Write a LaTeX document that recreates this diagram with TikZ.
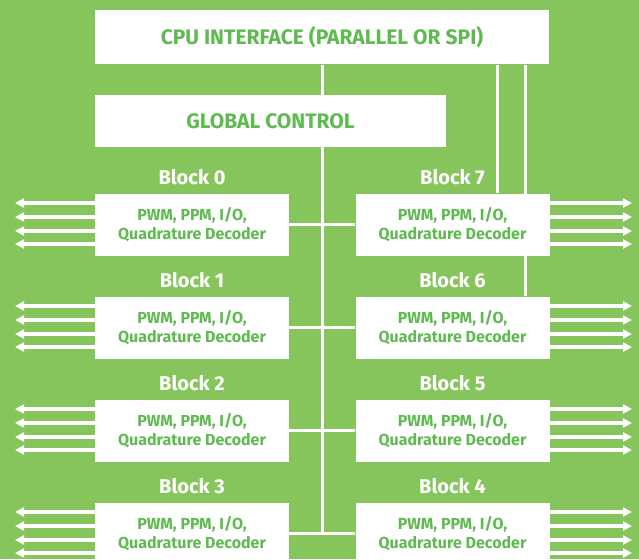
\documentclass[tikz,border=0pt]{standalone}
\usepackage{fontspec}
\setmainfont{Fira Sans}
\usetikzlibrary{arrows.meta,backgrounds}
\definecolor{bggreen}{RGB}{134,197,92}
\definecolor{txtgreen}{RGB}{96,186,82}

\begin{document}
\begin{tikzpicture}[x=1pt, y=-1pt,
  box/.style={fill=white, inner sep=0pt, text=txtgreen, font=\bfseries\fontsize{21}{24}\selectfont},
  blk/.style={box, minimum width=194pt, minimum height=62pt, align=center, font=\bfseries\fontsize{16}{19.5}\selectfont},
  lbl/.style={text=white, inner sep=0pt, font=\bfseries\fontsize{20}{24}\selectfont},
  bus/.style={white, line width=3pt},
  io/.style={white, line width=3.2pt, -{Triangle[length=9pt,width=9pt]}}]
\clip (0,0) rectangle (639,559);
\coordinate (edgeL) at (15,0);
\coordinate (edgeR) at (632,0);
% top boxes
\node[box, minimum width=454pt, minimum height=54pt] (cpu) at (322,37.5) {CPU INTERFACE (PARALLEL OR SPI)};
\node[box, minimum width=351pt, minimum height=51pt] (ctrl) at (270.5,121) {GLOBAL CONTROL};
% blocks, left 0-3 and right 7-4
\foreach \i in {0,...,3} {
  \pgfmathsetmacro\yy{224.5+103*\i}
  \pgfmathtruncatemacro\j{7-\i}
  \node[blk] (blk\i) at (192,\yy) {PWM, PPM, I/O,\\Quadrature Decoder};
  \node[blk] (blk\j) at (452.5,\yy) {PWM, PPM, I/O,\\Quadrature Decoder};
  \node[lbl, anchor=base] (lab\i) at ([yshift=9pt]blk\i.north) {Block \i};
  \node[lbl, anchor=base] (lab\j) at ([yshift=9pt]blk\j.north) {Block \j};
  \draw[bus] (blk\i.east) -- (blk\j.west);
  \foreach \d in {21.5,7.5,-6.5,-19.5} {
    \draw[io] ([yshift=\d pt]blk\i.west) -- ([yshift=\d pt]blk\i.west -| edgeL);
    \draw[io] ([yshift=\d pt]blk\j.east) -- ([yshift=\d pt]blk\j.east -| edgeR);
  }
}
% bus, behind the boxes
\begin{scope}[on background layer]
\fill[bggreen] (0,0) rectangle (639,559);
\draw[bus] (cpu.south) -- (cpu.south |- blk3.east);
\draw[bus] ([xshift=44.5pt]blk7.north) -- ([xshift=44.5pt]blk7.north |- cpu.south);
\draw[bus] ([xshift=72.5pt]blk6.north) -- ([xshift=72.5pt]blk6.north |- cpu.south);
\end{scope}
\end{tikzpicture}
\end{document}
